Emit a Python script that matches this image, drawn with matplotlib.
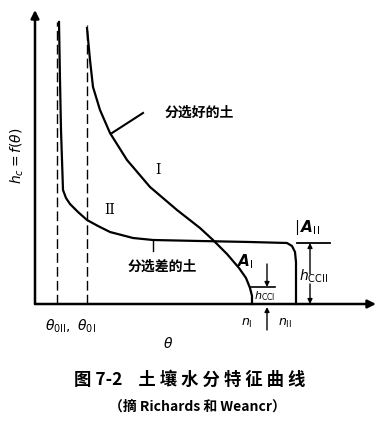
import matplotlib
matplotlib.use("Agg")
import matplotlib.pyplot as plt
import numpy as np

plt.rcParams['font.family'] = ['Noto Sans CJK SC', 'DejaVu Sans']

# Curve II (poorly sorted soil): theta, h
theta_II = [24, 25, 26, 27, 28, 31, 35, 43, 52, 63, 75, 98, 118, 165, 215, 252, 257, 260, 261, 261]
h_II = [282, 224, 174, 144, 114, 106, 100, 92, 84, 78, 72, 66, 64, 63, 62, 61, 58, 52, 42, 0]
# Curve I (well sorted soil)
theta_I = [52, 55, 58, 65, 75, 92, 115, 142, 165, 178, 192, 204, 211, 215, 217, 217]
h_I = [276, 244, 217, 194, 171, 144, 117, 94, 76, 64, 50, 36, 26, 16, 8, 0]
# residual water contents (dashed lines)
theta0 = [22, 52]
theta0_top = [282, 279]

W, H = 384, 424
fig = plt.figure(figsize=(W/100, H/100), dpi=100)
ax = fig.add_axes([0, 0, 1, 1])
# data coords: theta = px-35, h = 304-py
ax.set_xlim(-35, W-35)
ax.set_ylim(304-H, 304)
ax.axis('off')

k = 'black'
# axes with arrows
ax.annotate('', xy=(0, 294), xytext=(0, 0),
            arrowprops=dict(arrowstyle='-|>', lw=1.8, color=k, mutation_scale=12, shrinkA=0, shrinkB=0))
ax.annotate('', xy=(341, 0), xytext=(0, 0),
            arrowprops=dict(arrowstyle='-|>', lw=1.8, color=k, mutation_scale=12, shrinkA=0, shrinkB=0))

for t, top in zip(theta0, theta0_top):
    ax.plot([t, t], [0, top], color=k, lw=1.0, ls=(0, (7, 3)))

ax.plot(theta_II, h_II, color=k, lw=1.6, solid_joinstyle='round')
ax.plot(theta_I, h_I, color=k, lw=1.6, solid_joinstyle='round')

# leader lines & labels
ax.plot([108, 77], [191, 171], color=k, lw=1.5)
ax.text(130, 191, '分选好的土', fontsize=10, fontweight='bold', va='center', ha='left')
ax.text(123, 134, 'I', fontsize=10, ha='center', va='center', family='DejaVu Serif')
ax.text(75, 94, 'II', fontsize=10, ha='center', va='center', family='DejaVu Serif')
ax.plot([118, 118], [64, 53], color=k, lw=1.0)
ax.text(93, 37, '分选差的土', fontsize=10, fontweight='bold', va='center', ha='left')

# A_I and h_cc1
ax.text(210, 42, r'$\boldsymbol{A}_{\rm I}$', fontsize=11, ha='center', va='center')
ax.annotate('', xy=(232, 17), xytext=(232, 40),
            arrowprops=dict(arrowstyle='-|>', lw=1.0, color=k, mutation_scale=7, shrinkA=0, shrinkB=0))
ax.plot([215, 240], [17, 17], color=k, lw=1.2)
ax.text(219, 8, r'$h_{\rm CCI}$', fontsize=8, ha='left', va='center')
ax.annotate('', xy=(232, -3), xytext=(232, -26),
            arrowprops=dict(arrowstyle='-|>', lw=1.0, color=k, mutation_scale=7, shrinkA=0, shrinkB=0))
ax.text(212, -19, r'$n_{\rm I}$', fontsize=9, ha='center', va='center')
ax.text(250, -19, r'$n_{\rm II}$', fontsize=9, ha='center', va='center')

# A_II and h_ccII
ax.plot([262, 262], [70, 84], color=k, lw=0.8)
ax.text(275, 76, r'$\boldsymbol{A}_{\rm II}$', fontsize=11, ha='center', va='center')
ax.plot([262, 295], [61, 61], color=k, lw=1.3)
ax.annotate('', xy=(275, 61), xytext=(275, 30),
            arrowprops=dict(arrowstyle='-|>', lw=1.0, color=k, mutation_scale=7, shrinkA=0, shrinkB=0))
ax.annotate('', xy=(275, 0), xytext=(275, 20),
            arrowprops=dict(arrowstyle='-|>', lw=1.0, color=k, mutation_scale=7, shrinkA=0, shrinkB=0))
ax.text(264, 28, r'$h_{\rm CCII}$', fontsize=10, ha='left', va='center')

# axis labels
ax.text(36, -22, r'$\theta_{0\rm II},\ \theta_{0\rm I}$', fontsize=10, ha='center', va='center')
ax.text(133, -40, r'$\theta$', fontsize=10, ha='center', va='center')
ax.text(-18, 148, r'$h_c=f(\theta)$', fontsize=10, ha='center', va='center', rotation=90)

# caption
ax.text(155, -76, '图 7-2    土 壤 水 分 特 征 曲 线', fontsize=12.5, fontweight='bold', ha='center', va='center')
ax.text(162, -103, '（摘 Richards 和 Weancr）', fontsize=10, fontweight='bold', ha='center', va='center')

fig.savefig('out.png', dpi=100)
